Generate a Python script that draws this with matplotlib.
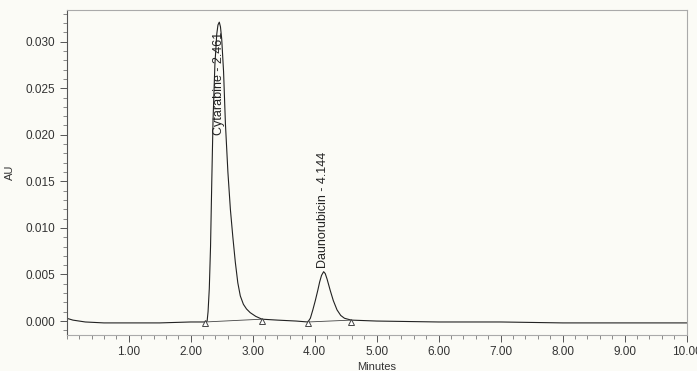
import numpy as np
from matplotlib import pyplot as plt
from matplotlib.ticker import MultipleLocator, FormatStrFormatter

plt.rcParams['font.family'] = ['Liberation Sans', 'DejaVu Sans']

# trace (minutes, AU)
trace_t = [0.00, 0.10, 0.30, 0.60, 1.00, 1.50, 2.00, 2.23, 2.265,
           2.28, 2.30, 2.32, 2.34, 2.36, 2.39, 2.42, 2.44, 2.461,
           2.48, 2.50, 2.53, 2.56, 2.60, 2.64, 2.68, 2.72, 2.76, 2.80,
           2.85, 2.90, 2.96, 3.05, 3.15, 3.40, 3.70, 3.89,
           3.93, 3.97, 4.01, 4.05, 4.08, 4.11, 4.144, 4.17, 4.20, 4.25,
           4.30, 4.36, 4.42, 4.48, 4.59, 5.00, 6.00, 7.00, 8.00, 9.00, 10.00]
trace_au = [0.0003, 0.0001, -0.0001, -0.0002, -0.0002, -0.0002, -0.0001, -0.0001, 0.0000,
            0.0010, 0.0035, 0.0080, 0.0150, 0.0215, 0.0275, 0.0308, 0.0318, 0.0321,
            0.0316, 0.0303, 0.0268, 0.0212, 0.0160, 0.0120, 0.0090, 0.0063, 0.0041, 0.0027,
            0.0018, 0.0013, 0.0009, 0.0005, 0.0002, 0.0001, 0.0000, -0.0001,
            0.0003, 0.0012, 0.0022, 0.0033, 0.0042, 0.0049, 0.0053, 0.0051, 0.0045, 0.0033,
            0.0022, 0.0012, 0.0006, 0.0003, 0.0001, 0.0000, -0.0001, -0.0001, -0.0002, -0.0002, -0.0002]

# integration baselines (start, end of each peak)
base_t = [[2.23, 3.15], [3.89, 4.59]]
base_au = [[-0.0001, 0.0002], [-0.0001, 0.0001]]

peak_names = ["Cytarabine - 2.461", "Daunorubicin - 4.144"]
label_t = [2.45, 4.14]
label_au = [0.0200, 0.0057]

bg = "#fbfbf6"
fig = plt.figure(figsize=(6.97, 3.71), dpi=100, facecolor=bg)
ax = fig.add_axes([0.0957, 0.097, 0.8895, 0.876], facecolor=bg)

ax.plot(trace_t, trace_au, color="#222222", lw=0.8)
for bt, ba in zip(base_t, base_au):
    ax.plot(bt, ba, color="#444444", lw=0.6)
    ax.plot(bt, np.array(ba) - 0.00015, linestyle="none", marker="^", ms=4,
            mfc="white", mec="#444444", mew=0.7)

for name, lt, la in zip(peak_names, label_t, label_au):
    ax.text(lt, la, name, rotation=90, ha="center", va="bottom",
            fontsize=9, color="#222222")

ax.set_xlim(0, 10)
ax.set_ylim(-0.0015, 0.0334)
ax.xaxis.set_major_locator(MultipleLocator(1))
ax.xaxis.set_minor_locator(MultipleLocator(0.2))
ax.yaxis.set_major_locator(MultipleLocator(0.005))
ax.yaxis.set_minor_locator(MultipleLocator(0.001))
ax.xaxis.set_major_formatter(FormatStrFormatter("%.2f"))
ax.yaxis.set_major_formatter(FormatStrFormatter("%.3f"))
ax.set_xticks([t for t in range(1, 11)])

ax.tick_params(which="major", length=5, width=0.7, color="#555555",
               labelsize=8.5, labelcolor="#333333", pad=3)
ax.tick_params(which="minor", length=3, width=0.6, color="#777777")

for side in ["top", "right", "bottom"]:
    ax.spines[side].set_color("#aaaaaa")
    ax.spines[side].set_linewidth(0.8)
ax.spines["left"].set_color("#555555")
ax.spines["left"].set_linewidth(0.8)

ax.set_ylabel("AU", fontsize=8, color="#333333", labelpad=8)
ax.set_xlabel("Minutes", fontsize=8, color="#333333", labelpad=3)

fig.savefig("out.png", dpi=100, facecolor=bg)
